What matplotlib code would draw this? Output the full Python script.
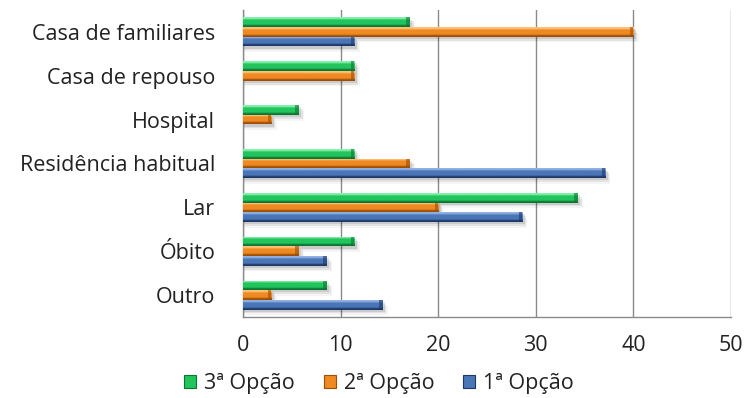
import matplotlib.pyplot as plt
import numpy as np
from matplotlib.colors import to_rgb
from matplotlib.patches import Patch, Rectangle

categories = ['Casa de familiares', 'Casa de repouso', 'Hospital',
              'Residência habitual', 'Lar', 'Óbito', 'Outro']
opcao3 = [17.1, 11.4, 5.7, 11.4, 34.3, 11.4, 8.6]
opcao2 = [40.0, 11.4, 2.9, 17.1, 20.0, 5.7, 2.9]
opcao1 = [11.4, 0.0, 0.0, 37.1, 28.6, 8.6, 14.3]
series_names = ['3ª Opção', '2ª Opção', '1ª Opção']

# light / base / dark shades for the bevelled look
palette = [
    ('#86f2ae', '#22c45c', '#0c7533'),
    ('#ffc378', '#ef8a22', '#9c4d08'),
    ('#93b3e2', '#4a76b8', '#1c3866'),
]

plt.rcParams['font.family'] = ['Open Sans', 'DejaVu Sans']
fs = 15.5

fig = plt.figure(figsize=(7.46, 3.98), dpi=100)
ax = fig.add_axes([0.3257, 0.2035, 0.6542, 0.7714])

y = np.arange(len(categories))
h = 0.22


def gradient(light, base, dark, n=40):
    stops = [0.0, 0.12, 0.3, 0.72, 0.88, 1.0]
    cols = [light, light, base, base, dark, dark]
    cols = np.array([to_rgb(c) for c in cols])
    t = np.linspace(0, 1, n)
    img = np.stack([np.interp(t, stops, cols[:, k]) for k in range(3)], axis=1)
    return img[:, None, :]


for i, vals in enumerate([opcao3, opcao2, opcao1]):
    light, base, dark = palette[i]
    ypos = y + (i - 1) * h
    img = gradient(light, base, dark)
    for yy, v in zip(ypos, vals):
        if v <= 0:
            continue
        # soft drop shadow
        for k, a in enumerate([0.10, 0.07, 0.04]):
            off = 0.05 + 0.04 * k
            ax.add_patch(Rectangle((0, yy - h / 2 + off), v + 0.25 + 0.15 * k, h,
                                   facecolor='black', alpha=a, lw=0, zorder=2))
        bar = ax.barh(yy, v, height=h, color=base, edgecolor='none', zorder=3)[0]
        im = ax.imshow(img, extent=(0, v, yy + h / 2, yy - h / 2),
                       aspect='auto', interpolation='bilinear', zorder=4)
        im.set_clip_path(bar)
        # darker bevel at the bar end
        ax.add_patch(Rectangle((v - 0.35, yy - h / 2), 0.35, h,
                               facecolor=dark, alpha=0.6, lw=0, zorder=5))

ax.set_xlim(0, 50)
ax.set_ylim(len(categories) - 0.5, -0.5)
ax.set_yticks(y)
ax.set_yticklabels(categories, fontsize=fs, color='#222222')
ax.set_xticks(np.arange(0, 51, 10))
ax.tick_params(axis='x', length=0, pad=13, labelsize=fs, labelcolor='#222222')
ax.tick_params(axis='y', length=0, pad=20)
ax.grid(axis='x', color='#8a8a8a', lw=1, zorder=1)
ax.set_axisbelow(True)
for s in ['top', 'right']:
    ax.spines[s].set_visible(False)
for s in ['left', 'bottom']:
    ax.spines[s].set_color('#8a8a8a')
    ax.spines[s].set_linewidth(1)

handles = [Patch(facecolor=palette[i][1], edgecolor=palette[i][2], lw=0.8)
           for i in range(3)]
fig.legend(handles, series_names, loc='center', bbox_to_anchor=(0.508, 0.036),
           ncol=3, frameon=False, fontsize=fs, handlelength=0.56, handleheight=0.56,
           handletextpad=0.37, columnspacing=1.35, labelcolor='#222222',
           borderpad=0)

fig.savefig('out.png', dpi=100)
